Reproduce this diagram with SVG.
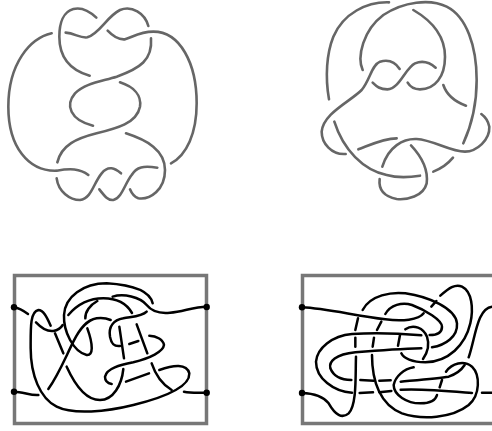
<svg xmlns="http://www.w3.org/2000/svg" width="492" height="431" viewBox="0 0 492 431">
<style>
path{fill:none;stroke-linecap:round;stroke-linejoin:round}
.g path{stroke:#666;stroke-width:7.800}
.k path{stroke:#000;stroke-width:7.500}
.f{fill:none;stroke:#777;stroke-width:3.500}
circle{fill:#000;r:3.200px}
</style>
<rect width="492" height="431" fill="#fff"/>
<g id="knot-a" class="g" transform="scale(.33333)">
<path d="M155 100C90 115 25 190 25 320C25 440 85 515 170 512C210 505 240 505 265 525"/>
<path d="M289 53C265 30 240 22 220 27C190 35 178 70 178 110C178 170 210 210 269 227"/>
<path d="M197 98C225 100 240 115 262 112C300 100 320 50 360 30C395 15 435 40 445 78"/>
<path d="M323 92C340 110 355 120 375 118C400 110 420 95 460 95C540 95 590 190 590 310C590 400 560 465 513 490"/>
<path d="M453 115C458 180 420 205 350 230C300 245 255 250 225 280C195 315 210 360 279 377"/>
<path d="M360 247C400 260 425 285 420 320C410 370 350 385 290 400C230 415 185 435 172 487"/>
<path d="M378 400C440 420 495 450 495 510C495 570 450 600 415 595C400 590 395 580 390 568"/>
<path d="M170 535C175 575 210 600 240 600C275 595 280 550 305 520C325 495 345 505 363 520"/>
<path d="M298 568C315 590 325 602 340 600C365 595 375 550 395 525C410 500 430 497 472 503"/>
</g>
<g id="knot-b" class="g" transform="translate(300 0) scale(.33333)">
<path d="M267 7C200 5 130 40 100 110C80 160 75 230 87 298"/>
<path d="M188 210C170 170 190 90 250 45C310 5 390 -5 440 20C500 50 530 140 530 240C530 310 515 375 490 430"/>
<path d="M340 30C400 65 435 110 435 170C435 230 405 268 360 268C340 268 330 260 323 248"/>
<path d="M407 203C390 188 370 180 345 190C315 205 300 265 262 268C240 268 230 260 218 248"/>
<path d="M299 207C285 185 265 178 240 185C215 195 210 240 185 270C150 305 70 340 65 395C65 430 95 465 137 462"/>
<path d="M103 365C130 450 190 510 260 525C295 535 330 532 360 527"/>
<path d="M175 448C210 435 250 415 290 415"/>
<path d="M247 500C265 440 310 415 350 417C400 420 450 455 495 455C530 455 570 420 568 380C565 365 555 350 544 342"/>
<path d="M333 436C365 470 385 510 380 550C370 590 320 600 290 597C255 590 235 570 239 537"/>
<path d="M400 515C425 505 445 490 459 473"/>
<path d="M430 255C440 285 465 305 498 317"/>
</g>
<g id="tangle-c">
<rect class="f" x="14.500" y="275.500" width="192" height="148"/>
<g class="k" transform="translate(0 265) scale(.33333)">
<path d="M42 127C60 130 70 137 84 147"/>
<path d="M42 380C70 380 90 392 115 390"/>
<path d="M152 182C140 155 130 135 115 135C90 140 92 190 92 250C92 330 120 400 170 425C220 450 320 440 400 420C480 400 570 370 568 325C560 295 520 300 478 315"/>
<path d="M165 205L190 265"/>
<path d="M200 305C225 360 260 405 300 405C340 405 365 360 370 312"/>
<path d="M108 172C125 190 145 200 160 198C175 195 185 185 188 180"/>
<path d="M205 150C235 115 270 100 310 100C360 100 385 125 396 144"/>
<path d="M458 115C450 80 400 60 320 55C250 55 195 95 192 150C190 200 220 260 260 270C280 272 280 240 262 190"/>
<path d="M256 160C255 140 270 120 292 108"/>
<path d="M145 372C175 330 195 280 220 230C240 190 260 165 290 160C305 158 320 160 332 165"/>
<path d="M338 95C370 85 420 95 440 120C460 145 490 145 510 143C550 140 580 125 620 125"/>
<path d="M440 140C425 155 395 155 370 160C340 165 325 185 330 215C335 240 345 245 360 243"/>
<path d="M358 185L372 280"/>
<path d="M388 237L415 228"/>
<path d="M448 212C470 212 490 225 492 240C490 260 450 280 400 292C360 300 320 310 315 335C315 350 325 355 335 357"/>
<path d="M378 350L447 325"/>
<path d="M552 380C575 385 600 383 620 383"/>
<path d="M410 178L442 265"/>
<path d="M455 295C470 340 490 360 515 375"/>
</g>
<circle cx="14" cy="307.300"/><circle cx="206.700" cy="307"/><circle cx="14" cy="391.700"/><circle cx="206.700" cy="392.700"/>
</g>
<g id="tangle-d">
<rect class="f" x="302.500" y="275.500" width="195" height="148"/>
<g class="k" transform="translate(292 265) scale(.33333)">
<path d="M30 127C100 130 180 150 280 163C330 170 380 165 395 145"/>
<path d="M212 135C235 90 300 80 340 85C410 95 490 130 495 175C498 215 460 240 420 247"/>
<path d="M280 147C295 120 330 110 360 120C400 135 450 165 450 185C450 205 435 210 413 210"/>
<path d="M418 125L433 108"/>
<path d="M445 92C470 70 490 55 510 65C540 80 545 130 535 175C520 240 470 290 400 292C360 292 335 280 328 265"/>
<path d="M198 160L190 195"/>
<path d="M190 218L190 245"/>
<path d="M192 275C190 330 195 420 170 445C150 462 130 450 110 415C90 390 60 385 30 384"/>
<path d="M268 170L255 195"/>
<path d="M246 218L242 245"/>
<path d="M240 270C240 350 265 420 330 445C390 465 480 460 530 420C565 390 565 330 540 305C515 285 480 295 462 320"/>
<path d="M388 211C320 205 240 203 180 207C120 212 75 250 72 290C72 340 125 380 180 383"/>
<path d="M324 210L318 242"/>
<path d="M388 250C320 252 240 258 190 262C130 268 110 290 115 310C125 335 150 345 178 345"/>
<path d="M340 193C365 175 395 190 405 215C415 245 405 265 393 282"/>
<path d="M205 345L245 347"/>
<path d="M262 347L296 346"/>
<path d="M203 384L243 382"/>
<path d="M262 382L298 378"/>
<path d="M365 307C335 312 310 335 305 360C305 390 345 415 385 415C410 415 430 410 435 390"/>
<path d="M326 350C380 345 440 340 470 335C490 328 505 320 518 300"/>
<path d="M326 374C390 370 470 378 540 384"/>
<path d="M443 367L450 345"/>
<path d="M570 383L600 383"/>
<path d="M530 277C550 220 555 130 600 125"/>
</g>
<circle cx="302" cy="307.300"/><circle cx="302" cy="393"/>
</g>
</svg>
